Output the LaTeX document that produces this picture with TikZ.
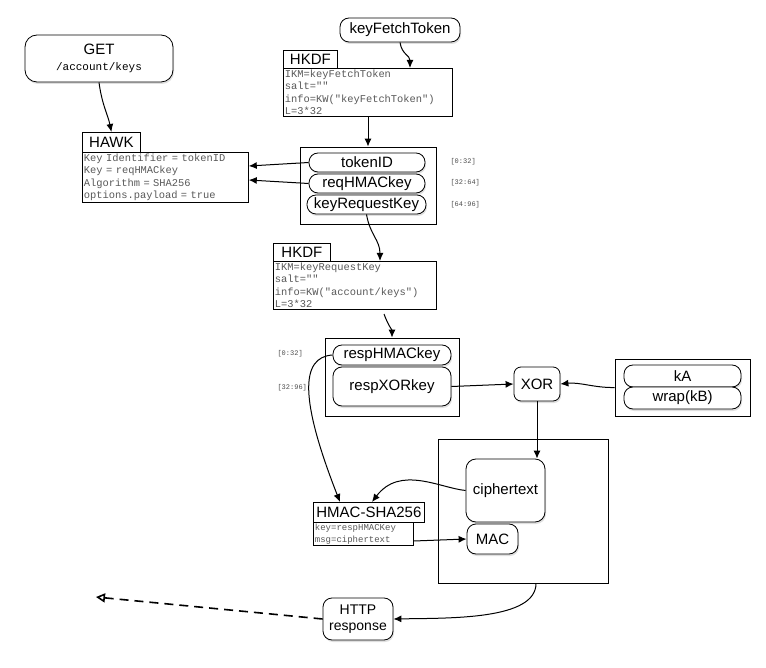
\documentclass[tikz,border=0pt]{standalone}
\usepackage{fontspec}
\setmainfont{Liberation Sans}
\newfontfamily\codefont{Liberation Mono}
\usetikzlibrary{shadows,arrows.meta}
\begin{document}
\begin{tikzpicture}[x=1pt,y=-1pt,
  lbl/.style={draw,thick,rounded corners=9pt,fill=white,font=\fontsize{15}{17}\selectfont,inner sep=0pt,drop shadow={opacity=0.25,shadow xshift=1pt,shadow yshift=-2pt}},
  pill/.style={lbl,rounded corners=9pt},
  frame/.style={draw,line width=0.8pt,inner sep=0pt},
  title/.style={draw,line width=0.8pt,fill=white,font=\fontsize{15}{17}\selectfont,inner sep=0pt,anchor=north west},
  code/.style={draw,line width=0.8pt,fill=white,font=\codefont\fontsize{10.4}{12.4}\selectfont,text=black!65,align=left,inner sep=1.5pt,anchor=north west},
  rng/.style={font=\codefont\fontsize{7}{8}\selectfont,text=black!70},
  arr/.style={-{Latex[length=8pt,width=7pt]},line width=1pt}]
\useasboundingbox (0,0) rectangle (766,668);
% GET
\node[lbl,rounded corners=12pt,minimum width=148pt,minimum height=47pt,align=center] (get) at (99,58.5) {GET\\[-1pt]{\codefont\fontsize{11}{13}\selectfont /account/keys}};
\node[pill,minimum width=120pt,minimum height=24pt] (kft) at (400,30) {keyFetchToken};
% HKDF1
\node[title,minimum width=54pt,minimum height=18pt] (h1t) at (283,50) {HKDF};
\node[code,text width=166pt] (h1) at (283,68) {IKM=keyFetchToken\\salt=""\\info=KW("keyFetchToken")\\L=3*32};
% HAWK
\node[title,minimum width=58pt,minimum height=20pt] (hawkt) at (82,132) {HAWK};
\node[code,text width=163pt] (hawk) at (82,152) {Key Identifier = tokenID\\Key = reqHMACkey\\Algorithm = SHA256\\options.payload = true};
% box1
\node[frame,minimum width=136pt,minimum height=77pt] (b1) at (368,185.5) {};
\node[pill,minimum width=116pt,minimum height=19pt] (tid) at (367,162.5) {tokenID};
\node[pill,minimum width=116pt,minimum height=19pt] (rhk) at (367,183.5) {reqHMACkey};
\node[pill,minimum width=119pt,minimum height=19pt] (krk) at (366.5,204.5) {keyRequestKey};
\node[rng,anchor=west] (r1) at (447,162) {[0:32]};
\node[rng,anchor=west] (r2) at (447,183) {[32:64]};
\node[rng,anchor=west] (r3) at (447,205) {[64:96]};
% HKDF2
\node[title,minimum width=57pt,minimum height=18pt] (h2t) at (273,243) {HKDF};
\node[code,text width=160pt] (h2) at (273,261) {IKM=keyRequestKey\\salt=""\\info=KW("account/keys")\\L=3*32};
% box2
\node[frame,minimum width=134pt,minimum height=78pt] (b2) at (392,377) {};
\node[pill,minimum width=118pt,minimum height=20pt] (rhm) at (392,355) {respHMACkey};
\node[lbl,minimum width=118pt,minimum height=39pt] (rxk) at (392,386.5) {respXORkey};
\node[rng,anchor=west] (r4) at (274,354) {[0:32]};
\node[rng,anchor=west] (r5) at (274,388) {[32:96]};
% XOR
\node[lbl,rounded corners=7pt,minimum width=46pt,minimum height=34pt] (xor) at (537,384) {XOR};
% kA box
\node[frame,minimum width=135pt,minimum height=57pt] (b4) at (682.5,387.5) {};
\node[pill,minimum width=117pt,minimum height=22pt] (ka) at (682.5,376) {kA};
\node[pill,minimum width=117pt,minimum height=22pt] (wkb) at (682.5,398) {wrap(kB)};
% box3
\node[frame,minimum width=170pt,minimum height=144pt] (b3) at (523,511) {};
\node[lbl,rounded corners=10pt,minimum width=79pt,minimum height=63pt] (ct) at (505.5,490.5) {ciphertext};
\node[lbl,minimum width=51pt,minimum height=30pt] (mac) at (492.5,539) {MAC};
% HMAC
\node[title,minimum width=111pt,minimum height=20pt] (hmt) at (313,502) {HMAC-SHA256};
\node[code,text width=97pt,font=\codefont\fontsize{9}{12}\selectfont] (hm) at (313,522) {key=respHMACKey\\msg=ciphertext};
% HTTP
\node[lbl,rounded corners=9pt,minimum width=70pt,minimum height=42pt,align=center,font=\fontsize{14}{16}\selectfont] (http) at (358,619) {HTTP\\response};
\coordinate (out) at (96,597);
% arrows
\draw[arr] (get.south) .. controls (102,105) and (108,115) .. (hawkt.north);
\draw[arr] (kft.south) .. controls (402,55) and (410,55) .. (410,68);
\draw[arr] (h1.south -| 368,0) -- (b1.north);
\draw[arr] (tid.west) -- (hawk.east |- 0,166);
\draw[arr] (rhk.west) -- (hawk.east |- 0,180);
\draw[arr] (krk.south) .. controls (370,235) and (380,240) .. (380,261);
\draw[arr] (384,314) .. controls (388,325) and (392,330) .. (b2.north);
\draw[arr] (rxk.east) -- (xor.west);
\draw[arr] (b4.west) .. controls (595,388) and (580,382) .. (xor.east);
\draw[arr] (xor.south) -- (ct.north -| xor.south);
\draw[arr] (rhm.west) .. controls (300,357) and (300,400) .. (340,502);
\draw[arr] (ct.west) .. controls (440,488) and (400,465) .. (372,502);
\draw[arr] (hm.east |- 0,541) -- (mac.west);
\draw[arr] (b3.south -| 536,0) .. controls (536,620) and (450,618) .. (http.east);
\draw[-{Triangle[open,length=9pt,width=9pt]},line width=1.6pt,dash pattern=on 9pt off 6pt] (http.west) -- (out);
\end{tikzpicture}
\end{document}
